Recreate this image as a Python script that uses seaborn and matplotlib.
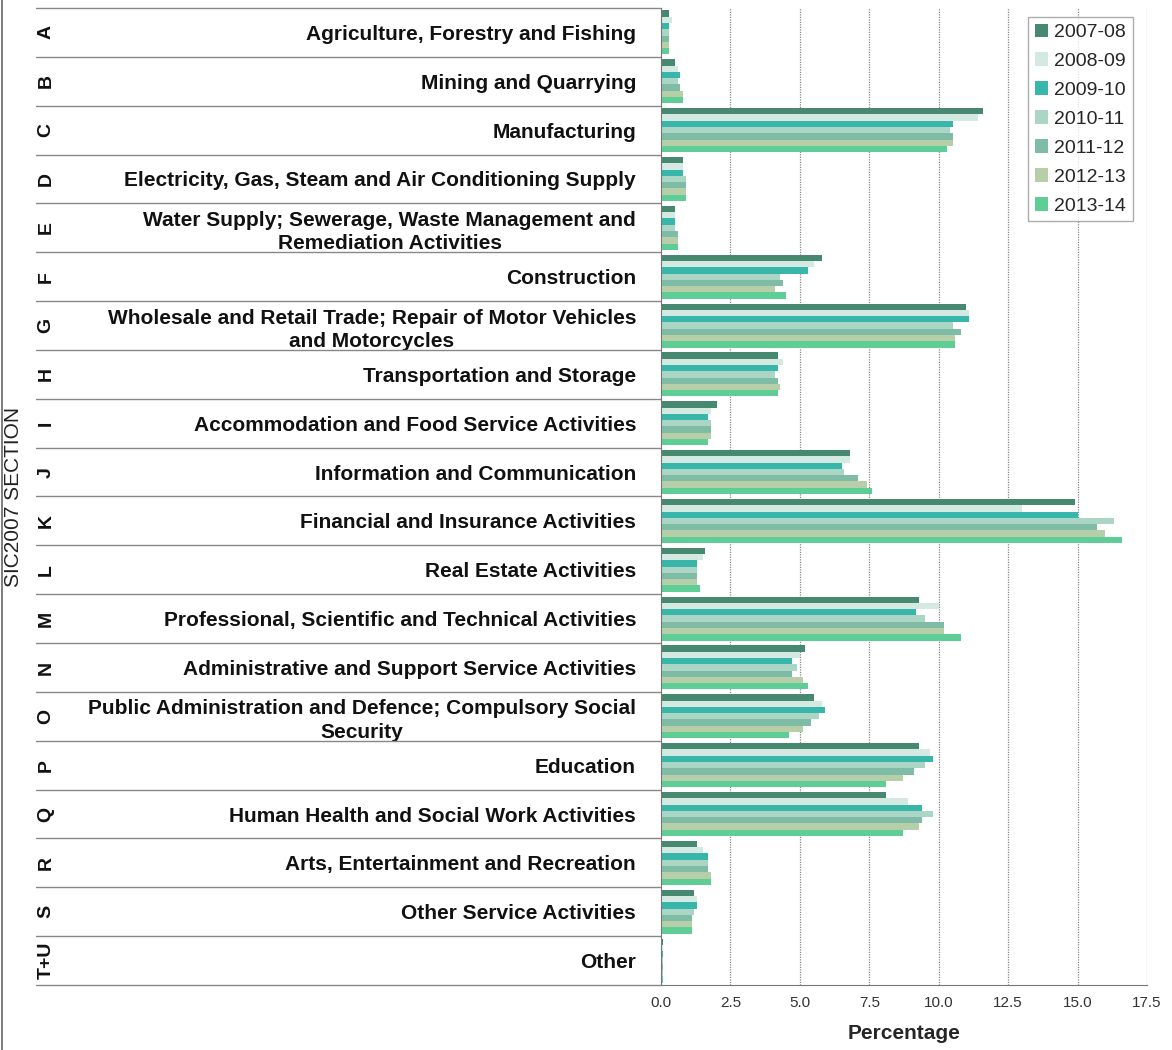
import numpy as np
import pandas as pd
import matplotlib
matplotlib.use("Agg")
import matplotlib.pyplot as plt
import matplotlib.transforms as mtransforms
from matplotlib.lines import Line2D
import seaborn as sns

# --- data ---
letters = ["A", "B", "C", "D", "E", "F", "G", "H", "I", "J",
           "K", "L", "M", "N", "O", "P", "Q", "R", "S", "T+U"]
sectors = [
    "Agriculture, Forestry and Fishing",
    "Mining and Quarrying",
    "Manufacturing",
    "Electricity, Gas, Steam and Air Conditioning Supply",
    "Water Supply; Sewerage, Waste Management and\nRemediation Activities",
    "Construction",
    "Wholesale and Retail Trade; Repair of Motor Vehicles\nand Motorcycles",
    "Transportation and Storage",
    "Accommodation and Food Service Activities",
    "Information and Communication",
    "Financial and Insurance Activities",
    "Real Estate Activities",
    "Professional, Scientific and Technical Activities",
    "Administrative and Support Service Activities",
    "Public Administration and Defence; Compulsory Social\nSecurity",
    "Education",
    "Human Health and Social Work Activities",
    "Arts, Entertainment and Recreation",
    "Other Service Activities",
    "Other",
]
years = ["2007-08", "2008-09", "2009-10", "2010-11", "2011-12", "2012-13", "2013-14"]

y2007_08 = [0.3, 0.5, 11.6, 0.8, 0.5, 5.8, 11.0, 4.2, 2.0, 6.8, 14.9, 1.6, 9.3, 5.2, 5.5, 9.3, 8.1, 1.3, 1.2, 0.08]
y2008_09 = [0.4, 0.6, 11.4, 0.8, 0.5, 5.5, 11.1, 4.4, 1.8, 6.8, 13.0, 1.5, 10.0, 5.0, 5.8, 9.7, 8.9, 1.5, 1.3, 0.08]
y2009_10 = [0.3, 0.7, 10.5, 0.8, 0.5, 5.3, 11.1, 4.2, 1.7, 6.5, 15.0, 1.3, 9.2, 4.7, 5.9, 9.8, 9.4, 1.7, 1.3, 0.08]
y2010_11 = [0.3, 0.6, 10.4, 0.9, 0.5, 4.3, 10.5, 4.1, 1.8, 6.6, 16.3, 1.3, 9.5, 4.9, 5.7, 9.5, 9.8, 1.7, 1.2, 0.08]
y2011_12 = [0.3, 0.7, 10.5, 0.9, 0.6, 4.4, 10.8, 4.2, 1.8, 7.1, 15.7, 1.3, 10.2, 4.7, 5.4, 9.1, 9.4, 1.7, 1.1, 0.08]
y2012_13 = [0.3, 0.8, 10.5, 0.9, 0.6, 4.1, 10.6, 4.3, 1.8, 7.4, 16.0, 1.3, 10.2, 5.1, 5.1, 8.7, 9.3, 1.8, 1.1, 0.08]
y2013_14 = [0.3, 0.8, 10.3, 0.9, 0.6, 4.5, 10.6, 4.2, 1.7, 7.6, 16.6, 1.4, 10.8, 5.3, 4.6, 8.1, 8.7, 1.8, 1.1, 0.08]

colors = ["#468870", "#d3e9e1", "#38b6aa", "#abd6c6", "#7fbca5", "#b6cfa8", "#5fcd96"]

# 长表
series = [y2007_08, y2008_09, y2009_10, y2010_11, y2011_12, y2012_13, y2013_14]
rows = []
for yr, vals in zip(years, series):
    for sec, v in zip(sectors, vals):
        rows.append({"sector": sec, "year": yr, "value": v})
df = pd.DataFrame(rows)

sns.set_style("white")
plt.rcParams["font.family"] = ["Liberation Sans", "DejaVu Sans"]

W, H = 1172, 1050
fig = plt.figure(figsize=(W / 100, H / 100), dpi=100)
ax_left, ax_right, ax_top, ax_bot = 661, 1147, 8, 985
ax = fig.add_axes([ax_left / W, 1 - ax_bot / H, (ax_right - ax_left) / W, (ax_bot - ax_top) / H])

sns.barplot(data=df, y="sector", x="value", hue="year", order=sectors, hue_order=years,
            palette=colors, orient="h", width=0.9, ax=ax, saturation=1,
            edgecolor="none", linewidth=0)

ax.set_xlim(0, 17.5)
ax.set_ylim(len(sectors) - 0.5, -0.5)
ax.set_xticks(np.arange(0, 17.6, 2.5))
ax.set_xticklabels([f"{t:.1f}" for t in np.arange(0, 17.6, 2.5)], fontsize=11, color="#333333")
ax.tick_params(axis="x", direction="out", length=5, color="#777777", pad=3)
ax.tick_params(axis="y", length=0, pad=18)
ax.set_yticklabels(sectors, fontsize=15, fontweight="bold", color="#111111",
                   ha="right", multialignment="center", linespacing=1.3)
ax.set_xlabel("Percentage", fontsize=15, fontweight="bold", labelpad=10)
ax.set_ylabel("")

for x in np.arange(2.5, 17.6, 2.5):
    ax.axvline(x, color="#888888", linestyle=(0, (1, 1)), linewidth=0.9, zorder=0)

for s in ["top", "right"]:
    ax.spines[s].set_visible(False)
ax.spines["left"].set_color("#777777")
ax.spines["bottom"].set_color("#777777")

# 左边的表格线和字母
trans = mtransforms.blended_transform_factory(fig.transFigure, ax.transData)
for i in range(len(sectors) + 1):
    ax.add_artist(Line2D([36 / W, ax_left / W], [i - 0.5, i - 0.5], transform=trans,
                         color="#888888", linewidth=1.0, clip_on=False))
for i, lt in enumerate(letters):
    ax.text(46 / W, i, lt, transform=trans, rotation=90, ha="center", va="center",
            fontsize=14, fontweight="bold", color="#111111")

fig.text(14 / W, 1 - (ax_top + ax_bot) / 2 / H, "SIC2007 SECTION", rotation=90,
         ha="center", va="center", fontsize=15, color="#222222")
fig.add_artist(Line2D([2 / W, 2 / W], [0, 1], transform=fig.transFigure, color="#666666", linewidth=1.2))

leg = ax.legend(loc="upper right", bbox_to_anchor=(0.971, 0.991), borderaxespad=0,
                fontsize=14, frameon=True, fancybox=False, handlelength=0.7, handleheight=0.7,
                handletextpad=0.3, labelspacing=0.58, borderpad=0.35, title=None)
leg.get_frame().set_edgecolor("#999999")
leg.get_frame().set_linewidth(1.0)

fig.savefig("out.png", dpi=100)
